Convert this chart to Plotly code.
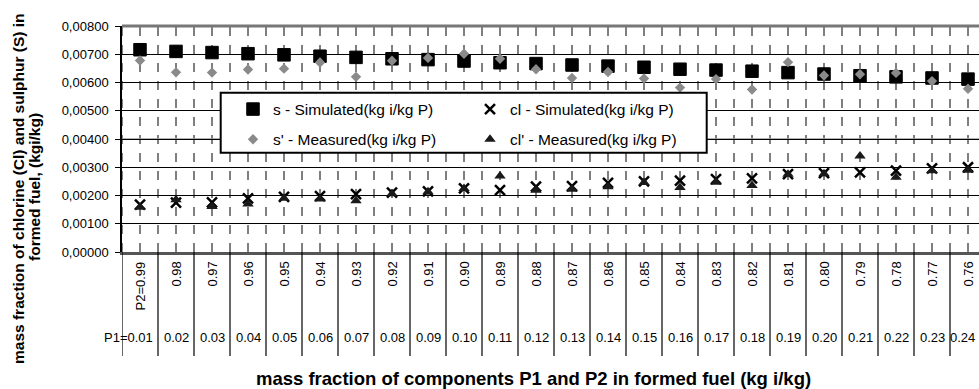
import plotly.graph_objects as go

# ---- data ----
P1 = ["0.01", "0.02", "0.03", "0.04", "0.05", "0.06", "0.07", "0.08", "0.09", "0.10", "0.11", "0.12",
      "0.13", "0.14", "0.15", "0.16", "0.17", "0.18", "0.19", "0.20", "0.21", "0.22", "0.23", "0.24"]
P2 = ["0.99", "0.98", "0.97", "0.96", "0.95", "0.94", "0.93", "0.92", "0.91", "0.90", "0.89", "0.88",
      "0.87", "0.86", "0.85", "0.84", "0.83", "0.82", "0.81", "0.80", "0.79", "0.78", "0.77", "0.76"]
s_sim = [0.00716, 0.00710, 0.00706, 0.00702, 0.00698, 0.00693, 0.00689, 0.00684, 0.00681, 0.00676, 0.00670, 0.00667,
         0.00662, 0.00658, 0.00654, 0.00647, 0.00644, 0.00640, 0.00635, 0.00630, 0.00624, 0.00620, 0.00616, 0.00612]
s_meas = [0.00678, 0.00636, 0.00635, 0.00646, 0.00649, 0.00671, 0.00620, 0.00677, 0.00687, 0.00702, 0.00684, 0.00647,
          0.00616, 0.00637, 0.00614, 0.00582, 0.00612, 0.00575, 0.00672, 0.00625, 0.00629, 0.00634, 0.00605, 0.00578]
cl_sim = [0.00168, 0.00175, 0.00176, 0.00190, 0.00195, 0.00198, 0.00205, 0.00210, 0.00215, 0.00225, 0.00219, 0.00231,
          0.00233, 0.00245, 0.00250, 0.00253, 0.00258, 0.00261, 0.00276, 0.00279, 0.00282, 0.00288, 0.00296, 0.00300]
cl_meas = [0.00158, 0.00185, 0.00161, 0.00170, 0.00190, 0.00188, 0.00181, 0.00206, 0.00213, 0.00225, 0.00269, 0.00219,
           0.00222, 0.00231, 0.00246, 0.00228, 0.00247, 0.00235, 0.00275, 0.00277, 0.00340, 0.00265, 0.00288, 0.00289]

FONT = "Liberation Sans, Arial, sans-serif"

fig = go.Figure()
fig.add_trace(go.Scatter(x=P1, y=s_sim, mode="markers", name="s - Simulated(kg i/kg P)",
                         marker=dict(symbol="square", size=12.5, color="black", line=dict(color="black", width=1)),
                         legend="legend", legendgroup="a"))
fig.add_trace(go.Scatter(x=P1, y=cl_sim, mode="markers", name="cl - Simulated(kg i/kg P)",
                         marker=dict(symbol="x-thin-open", size=10, color="black", line=dict(color="black", width=2.5)),
                         legend="legend2", legendgroup="b"))
fig.add_trace(go.Scatter(x=P1, y=s_meas, mode="markers", name="s' - Measured(kg i/kg P)",
                         marker=dict(symbol="diamond", size=8, color="#8a8a8a"),
                         legend="legend", legendgroup="c"))
fig.add_trace(go.Scatter(x=P1, y=cl_meas, mode="markers", name="cl' - Measured(kg i/kg P)",
                         marker=dict(symbol="triangle-up", size=10, color="#1a1a1a"),
                         legend="legend2", legendgroup="d"))

W, H = 979, 389
L, R, T, B = 122, 0, 26, 137
pw = W - L - R
ph = H - T - B
cat_w = 36.0
xmax = -0.5 + pw / cat_w


def py(pix):
    return (H - B - pix) / ph


def px(pix):
    return (pix - L) / pw


shapes = []
n = len(P1)
for i in range(n + 1):
    xb = i - 0.5
    # dashed boundary gridline inside plot
    shapes.append(dict(type="line", xref="x", yref="paper", x0=xb, x1=xb, y0=0, y1=1,
                       line=dict(color="black", width=1, dash="dash"), layer="below"))
    # solid table line below the axis
    shapes.append(dict(type="line", xref="x", yref="paper", x0=xb, x1=xb, y0=py(356), y1=0,
                       line=dict(color="black", width=1.2), layer="above"))
for i in range(n):
    shapes.append(dict(type="line", xref="x", yref="paper", x0=i, x1=i, y0=0, y1=1,
                       line=dict(color="black", width=1, dash="dash"), layer="below"))
# grey 0.004 line
shapes.append(dict(type="line", xref="paper", yref="y", x0=0, x1=1, y0=0.004, y1=0.004,
                   line=dict(color="#9a9a9a", width=1.5), layer="below"))
# top border
shapes.append(dict(type="line", xref="paper", yref="paper", x0=0, x1=1, y0=1, y1=1,
                   line=dict(color="#777777", width=3), layer="above"))
# legend box
shapes.append(dict(type="rect", xref="paper", yref="paper",
                   x0=px(220.7), x1=px(706.7), y0=py(152.7), y1=py(92.7),
                   fillcolor="white", line=dict(color="black", width=2), layer="above"))

annotations = []
for i, (a, b) in enumerate(zip(P1, P2)):
    txt2 = ("P2=" + b) if i == 0 else b
    annotations.append(dict(x=i, y=py(260), xref="x", yref="paper", text=txt2, textangle=-90,
                            showarrow=False, xanchor="center", yanchor="top",
                            font=dict(family=FONT, size=13, color="black")))
    if i == 0:
        annotations.append(dict(x=i + 0.43, y=py(337), xref="x", yref="paper", text="P1=" + a,
                                showarrow=False, xanchor="right", yanchor="middle",
                                font=dict(family=FONT, size=13, color="black")))
    elif i == n - 1:
        annotations.append(dict(x=px(977), y=py(337), xref="paper", yref="paper", text=a,
                                showarrow=False, xanchor="right", yanchor="middle",
                                font=dict(family=FONT, size=13, color="black")))
    else:
        annotations.append(dict(x=i, y=py(337), xref="x", yref="paper", text=a,
                                showarrow=False, xanchor="center", yanchor="middle",
                                font=dict(family=FONT, size=13, color="black")))

annotations.append(dict(x=px(533), y=py(378), xref="paper", yref="paper",
                        text="<b>mass fraction of components P1 and P2 in formed fuel (kg i/kg)</b>",
                        showarrow=False, xanchor="center", yanchor="middle",
                        font=dict(family=FONT, size=18.5, color="black")))
annotations.append(dict(x=px(18), y=py(189), xref="paper", yref="paper",
                        text="<b>mass fraction of chlorine (Cl) and sulphur (S) in</b>", textangle=-90,
                        showarrow=False, xanchor="center", yanchor="middle",
                        font=dict(family=FONT, size=15.5, color="black")))
annotations.append(dict(x=px(34), y=py(187), xref="paper", yref="paper",
                        text="<b>formed fuel, (kgi/kg)</b>", textangle=-90,
                        showarrow=False, xanchor="center", yanchor="middle",
                        font=dict(family=FONT, size=15.5, color="black")))

leg_common = dict(bgcolor="rgba(0,0,0,0)", borderwidth=0, orientation="v",
                  traceorder="grouped", tracegroupgap=7,
                  font=dict(family=FONT, size=15.5, color="black"),
                  xanchor="left", yanchor="top", yref="paper", xref="paper")

fig.update_layout(
    width=W, height=H,
    margin=dict(l=L, r=R, t=T, b=B, pad=0),
    paper_bgcolor="white", plot_bgcolor="white",
    separators=",.",
    showlegend=True,
    legend=dict(x=px(233), y=py(92.5), **leg_common),
    legend2=dict(x=px(470), y=py(92.5), **leg_common),
    xaxis=dict(type="category", categoryorder="array", categoryarray=P1,
               range=[-0.5, xmax], showticklabels=False, ticks="", showgrid=False,
               zeroline=False, showline=True, linecolor="#555555", linewidth=3),
    yaxis=dict(range=[0, 0.008], dtick=0.001, tick0=0, tickformat=".5f",
               showgrid=True, gridcolor="black", gridwidth=1, zeroline=False,
               showline=True, linecolor="black", linewidth=1.5,
               ticks="outside", ticklen=5, tickcolor="black", tickwidth=1,
               ticklabelstandoff=4,
               tickfont=dict(family=FONT, size=13, color="black")),
    shapes=shapes,
    annotations=annotations,
)

fig.write_html("out.html")
